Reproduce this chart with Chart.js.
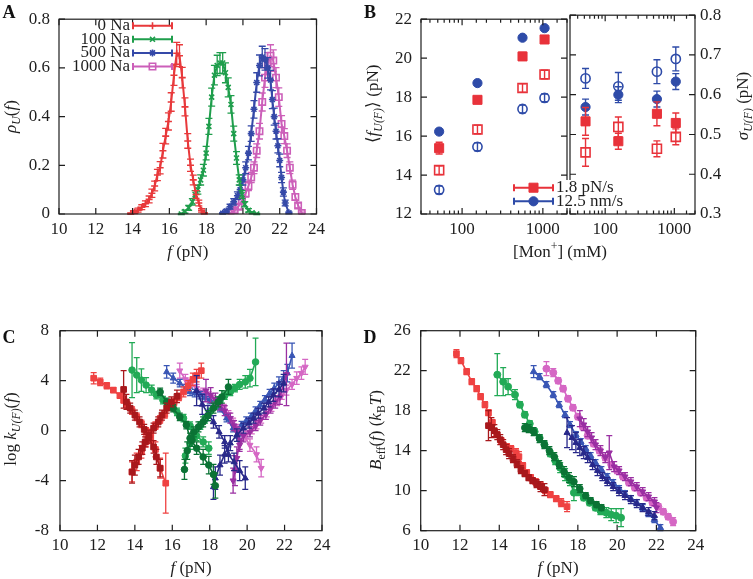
<!DOCTYPE html>
<html><head><meta charset="utf-8">
<script src="https://cdn.jsdelivr.net/npm/chart.js@4/dist/chart.umd.min.js"></script>
<style>
html,body{margin:0;padding:0;background:#fff;width:753px;height:579px;overflow:hidden;position:relative}
canvas{position:absolute}
</style></head><body>
<canvas id="cA"></canvas><canvas id="cBL"></canvas><canvas id="cBR"></canvas><canvas id="cC"></canvas><canvas id="cD"></canvas>
<script>
// ---------------- Panel A : rupture force distributions ----------------
const aLabels = ['0 Na', '100 Na', '500 Na', '1000 Na'];
const aRedF = [13.9,14.1,14.3,14.5,14.7,14.9,15.05,15.2,15.35,15.5,15.65,15.8,15.95,16.1,16.25,16.4,16.55,16.7,16.85,17.0,17.15,17.3,17.45,17.6,17.75,17.9];
const aRedY = [0.002,0.008,0.016,0.028,0.042,0.06,0.085,0.115,0.16,0.19,0.26,0.32,0.38,0.46,0.57,0.66,0.65,0.56,0.44,0.3,0.2,0.14,0.08,0.045,0.015,0.003];
const aRedE = [0.003,0.006,0.008,0.01,0.012,0.014,0.017,0.02,0.023,0.025,0.03,0.032,0.035,0.038,0.042,0.045,0.045,0.042,0.037,0.03,0.025,0.02,0.016,0.012,0.007,0.003];
const aGrnF = [16.65,16.85,17.05,17.25,17.4,17.55,17.7,17.85,18.0,18.15,18.3,18.45,18.6,18.75,18.9,19.05,19.2,19.35,19.5,19.65,19.8,19.95,20.1,20.3,20.5,20.75];
const aGrnY = [0.0,0.01,0.025,0.05,0.08,0.1,0.14,0.18,0.25,0.36,0.48,0.57,0.61,0.62,0.62,0.58,0.52,0.45,0.33,0.23,0.14,0.08,0.04,0.015,0.005,0.0];
const aGrnE = [0.002,0.006,0.01,0.013,0.016,0.018,0.021,0.024,0.028,0.033,0.037,0.04,0.042,0.043,0.043,0.041,0.039,0.036,0.031,0.026,0.021,0.016,0.011,0.007,0.004,0.002];
const aBluF = [18.9,19.1,19.3,19.5,19.7,19.85,20.0,20.15,20.3,20.45,20.6,20.75,20.9,21.05,21.2,21.35,21.5,21.6,21.7,21.8,21.9,22.0,22.1,22.2,22.3,22.5];
const aBluY = [0.003,0.012,0.03,0.05,0.075,0.1,0.14,0.19,0.25,0.33,0.43,0.54,0.61,0.645,0.635,0.6,0.55,0.47,0.4,0.34,0.28,0.22,0.15,0.09,0.045,0.005];
const aBluE = [0.003,0.007,0.01,0.013,0.016,0.018,0.021,0.024,0.028,0.032,0.036,0.04,0.043,0.044,0.044,0.042,0.04,0.037,0.035,0.032,0.029,0.026,0.021,0.017,0.012,0.004];
const aPnkF = [19.35,19.55,19.75,19.95,20.15,20.3,20.45,20.6,20.75,20.9,21.05,21.2,21.35,21.5,21.65,21.8,21.95,22.1,22.25,22.4,22.55,22.7,22.85,23.0,23.2];
const aPnkY = [0.004,0.015,0.03,0.055,0.085,0.115,0.15,0.19,0.26,0.34,0.46,0.56,0.62,0.65,0.63,0.56,0.48,0.37,0.32,0.26,0.19,0.12,0.07,0.035,0.004];
const aPnkE = [0.003,0.007,0.01,0.013,0.016,0.019,0.021,0.024,0.028,0.032,0.037,0.04,0.043,0.045,0.044,0.041,0.038,0.034,0.031,0.028,0.024,0.019,0.014,0.01,0.004];

// ---------------- Panel B : mean and std of rupture force vs [Mon+] ----------------
const bLabels = ['1.8 pN/s', '12.5 nm/s'];
const bConc = [52, 155, 560, 1050];
const bMeanRateFilled = [15.38, 17.86, 20.09, 20.96];
const bMeanRateFilledE = [0.3, 0.15, 0.2, 0.15];
const bMeanRateOpen = [14.25, 16.34, 18.47, 19.16];
const bMeanRateOpenE = [0.22, 0.22, 0.22, 0.22];
const bMeanVelFilled = [16.23, 18.72, 21.05, 21.54];
const bMeanVelFilledE = [0.08, 0.08, 0.08, 0.08];
const bMeanVelOpen = [13.24, 15.45, 17.39, 17.96];
const bMeanVelOpenE = [0.2, 0.2, 0.2, 0.2];
const bSdVelOpen = [0.641, 0.621, 0.658, 0.690];
const bSdVelOpenE = [0.025, 0.035, 0.03, 0.03];
const bSdVelFilled = [0.569, 0.600, 0.589, 0.633];
const bSdVelFilledE = [0.02, 0.02, 0.02, 0.02];
const bSdRateFilled = [0.533, 0.483, 0.552, 0.529];
const bSdRateFilledE = [0.035, 0.02, 0.03, 0.025];
const bSdRateOpen = [0.455, 0.519, 0.464, 0.494];
const bSdRateOpenE = [0.035, 0.025, 0.02, 0.02];

// ---------------- Panel C : log kinetic rates ----------------
const cRedLtDnF=[11.8,12.15,12.5,12.85,13.2,13.4,13.6,13.85,14.1,14.35,14.6,14.85,15.1,15.35,15.65];
const cRedLtDnV=[4.2,3.9,3.6,3.25,2.8,2.45,2.05,1.6,1.1,0.55,-0.05,-0.6,-1.5,-3.0,-4.2];
const cRedLtDnE=[0.45,0.3,0.25,0.2,0.2,0.25,0.3,0.3,0.3,0.3,0.3,0.4,0.6,0.8,2.4];
const cRedLtUpF=[13.85,14.1,14.35,14.6,14.85,15.1,15.35,15.6,15.85,16.1,16.35,16.6,16.85,17.1,17.3,17.55];
const cRedLtUpV=[-3.3,-2.5,-1.7,-0.9,-0.2,0.4,0.9,1.3,1.9,2.3,2.7,3.1,3.6,4.1,4.4,4.8];
const cRedLtUpE=[0.8,0.7,0.5,0.4,0.3,0.3,0.3,0.3,0.3,0.3,0.3,0.4,0.4,0.5,0.5,0.6];
const cRedDkDnF=[13.4,13.55,13.75,14.0,14.25,14.5,14.75,15.0,15.15,15.35];
const cRedDkDnV=[3.3,2.3,1.8,1.25,0.7,0.1,-0.6,-1.3,-2.1,-3.0];
const cRedDkDnE=[1.5,0.6,0.4,0.4,0.4,0.4,0.4,0.5,0.6,0.7];
const cRedDkUpF=[13.85,14.0,14.2,14.4,14.55,14.75,15.0,15.25,15.45,15.7,15.95,16.25];
const cRedDkUpV=[-3.3,-2.75,-2.1,-1.4,-0.9,-0.35,0.2,0.7,1.25,1.8,2.3,2.75];
const cRedDkUpE=[0.9,0.8,0.6,0.5,0.4,0.4,0.4,0.4,0.4,0.4,0.4,0.5];
const cGrnLtDnF=[13.85,14.1,14.35,14.6,14.9,15.15,15.5,15.85,16.25,16.6,16.95,17.3,17.65,17.95];
const cGrnLtDnV=[4.85,4.45,4.05,3.65,3.25,2.85,2.45,2.05,1.5,1.0,0.4,-0.4,-0.9,-1.4];
const cGrnLtDnE=[2.2,1.4,0.9,0.6,0.4,0.3,0.3,0.3,0.3,0.3,0.3,0.4,0.4,0.5];
const cGrnLtUpF=[16.7,16.95,17.2,17.5,17.75,18.0,18.3,18.55,18.8,19.1,19.35,19.6,19.9,20.15,20.45];
const cGrnLtUpV=[-2.0,-1.0,-0.3,0.4,0.9,1.5,2.0,2.4,2.8,3.1,3.4,3.7,3.9,4.2,5.5];
const cGrnLtUpE=[0.6,0.5,0.4,0.3,0.3,0.3,0.3,0.3,0.3,0.3,0.3,0.4,0.5,0.7,1.9];
const cGrnDkDnF=[15.35,15.7,16.05,16.4,16.75,16.95,17.3,17.65,17.95,18.2,18.3];
const cGrnDkDnV=[3.1,2.3,1.8,1.1,0.45,-0.6,-1.4,-2.1,-2.75,-3.5,-4.4];
const cGrnDkDnE=[0.3,0.3,0.3,0.3,0.3,0.4,0.5,0.6,0.7,0.8,1.0];
const cGrnDkUpF=[16.65,16.8,17.05,17.15,17.4,17.65,17.9,18.2,18.45,18.65,19.0];
const cGrnDkUpV=[-3.1,-1.6,-0.75,-0.1,0.3,0.7,1.2,1.8,2.3,2.7,3.5];
const cGrnDkUpE=[0.8,0.7,0.5,0.4,0.4,0.4,0.4,0.4,0.4,0.5,0.6];
const cBluLtDnF=[15.7,16.05,16.4,16.75,16.95,17.2,17.5,17.75,18.0,18.3,18.55,18.9,19.25,19.5];
const cBluLtDnV=[4.7,4.2,3.8,3.4,3.1,3.0,2.85,2.65,2.45,2.1,1.8,1.0,0.2,-0.3];
const cBluLtDnE=[0.5,0.4,0.3,0.3,0.3,0.3,0.3,0.3,0.3,0.3,0.3,0.3,0.3,0.3];
const cBluLtUpF=[19.7,19.95,20.2,20.45,20.7,20.95,21.2,21.45,21.7,21.95,22.15,22.4];
const cBluLtUpV=[0.45,0.8,1.1,1.6,2.05,2.5,3.0,3.4,3.8,4.2,4.6,6.0];
const cBluLtUpE=[0.3,0.3,0.3,0.3,0.3,0.3,0.3,0.4,0.5,0.6,0.7,1.0];
const cNavDnF=[17.3,17.6,17.9,18.2,18.5,18.8,19.0,19.3,19.6,19.9];
const cNavDnV=[3.2,2.1,1.4,0.7,-0.1,-0.9,-1.9,-2.5,-3.2,-3.8];
const cNavDnE=[1.2,0.8,0.6,0.5,0.5,0.5,0.6,0.7,0.8,0.9];
const cNavUpF=[18.2,18.3,18.55,18.8,19.1,19.45,19.8,20.1,20.35,20.6,20.9,21.15,21.4,21.7,21.95];
const cNavUpV=[-4.5,-3.8,-2.75,-1.9,-1.0,-0.35,0.2,0.6,1.0,1.4,1.8,2.3,2.85,3.3,3.8];
const cNavUpE=[1.0,0.9,0.8,0.7,0.6,0.5,0.4,0.4,0.4,0.4,0.4,0.4,0.5,0.6,0.7];
const cPnkDnF=[16.4,16.7,16.95,17.3,17.65,17.95,18.2,18.45,18.75,19.0,19.25,19.5,19.8,20.15,20.5,20.75];
const cPnkDnV=[4.8,4.1,3.8,3.4,3.1,2.8,2.5,2.2,1.8,1.3,0.7,0.2,-0.35,-1.15,-1.9,-3.0];
const cPnkDnE=[0.6,0.4,0.3,0.3,0.3,0.3,0.3,0.3,0.3,0.3,0.3,0.3,0.4,0.5,0.6,0.7];
const cPnkUpF=[19.95,20.25,20.5,20.75,21.05,21.3,21.6,21.85,22.1,22.4,22.65,22.9,23.1];
const cPnkUpV=[-0.35,0.05,0.45,0.9,1.4,1.85,2.3,2.8,3.25,3.7,4.2,4.6,5.1];
const cPnkUpE=[0.3,0.3,0.3,0.3,0.3,0.3,0.3,0.3,0.4,0.4,0.5,0.5,0.6];
const cPurDnF=[17.8,18.05,18.3,18.55,18.8,19.1,19.3,19.45,19.6];
const cPurDnV=[3.2,2.85,2.5,2.05,1.6,1.0,0.4,-0.1,-1.15];
const cPurDnE=[0.9,0.6,0.5,0.4,0.4,0.4,0.4,0.4,0.5];
const cPurUpF=[19.25,19.35,19.45,19.6,19.8,20.15,20.45,20.7,21.0,21.25,21.5,21.75,22.1];
const cPurUpV=[-4.0,-3.2,-2.2,-0.9,-0.4,-0.1,0.4,0.85,1.3,1.8,2.3,2.7,4.5];
const cPurUpE=[1.0,1.2,0.9,0.6,0.5,0.4,0.4,0.4,0.4,0.4,0.5,0.6,2.5];

// ---------------- Panel D : effective barrier ----------------
const dRedLtF=[11.82,12.05,12.34,12.6,12.85,13.05,13.27,13.45,13.65,13.87,14.1,14.38,14.6,14.85,15.0,15.2,15.4,15.6,15.85,16.1,16.35,16.6,16.9,17.15,17.45];
const dRedLtV=[23.7,23.0,21.9,20.9,20.2,19.4,18.6,17.8,16.8,15.6,15.0,14.4,14.2,13.8,13.4,12.5,11.8,11.3,10.9,10.5,10.0,9.6,9.2,8.8,8.4];
const dRedLtE=[0.4,0.3,0.3,0.3,0.3,0.3,0.3,0.3,0.3,0.3,0.3,0.3,0.3,0.4,0.5,0.3,0.3,0.3,0.3,0.3,0.3,0.3,0.3,0.4,0.5];
const dRedDkF=[13.45,13.6,13.75,13.9,14.05,14.2,14.35,14.5,14.7,14.9,15.1,15.3,15.5,15.7,15.9,16.1,16.3];
const dRedDkV=[16.5,16.3,16.0,15.6,15.1,14.6,14.1,13.7,13.2,12.7,12.1,11.7,11.3,11.0,10.7,10.4,10.1];
const dRedDkE=[1.5,1.0,0.6,0.5,0.5,0.5,0.5,0.5,0.4,0.4,0.4,0.3,0.3,0.3,0.4,0.5,0.6];
const dGrnLtF=[13.9,14.2,14.45,14.8,15.05,15.3,15.55,15.8,16.05,16.3,16.6,16.85,17.1,17.35,17.6,17.8,18.05,18.3,18.6,18.9,19.15,19.45,19.7,19.95,20.2];
const dGrnLtV=[21.6,20.9,20.4,19.6,18.6,17.6,16.7,15.9,15.3,14.6,13.7,13.0,12.3,11.6,11.0,9.8,9.9,9.3,8.8,8.3,8.0,7.8,7.6,7.5,7.3];
const dGrnLtE=[2.1,1.4,0.8,0.5,0.3,0.3,0.3,0.3,0.3,0.3,0.3,0.4,0.5,0.6,0.5,0.8,0.4,0.3,0.3,0.3,0.4,0.5,0.6,0.7,0.9];
const dGrnDkF=[15.3,15.5,15.75,16.05,16.3,16.55,16.8,17.05,17.3,17.55,17.8,18.1,18.4,18.65,18.95,19.2];
const dGrnDkV=[16.3,16.2,15.9,15.2,14.6,14.0,13.4,12.6,11.9,11.3,10.9,10.2,9.5,9.0,8.6,8.3];
const dGrnDkE=[0.4,0.4,0.4,0.4,0.4,0.4,0.4,0.4,0.5,0.5,0.5,0.4,0.3,0.3,0.3,0.3];
const dBluLtF=[15.75,16.05,16.4,16.75,17.05,17.35,17.6,17.9,18.15,18.4,18.65,18.9,19.2,19.5,19.8,20.1,20.4,20.7,21.0,21.3,21.6,21.9,22.2];
const dBluLtV=[21.9,21.4,20.6,19.6,18.6,17.6,16.6,15.6,14.9,14.2,13.5,12.8,12.1,11.4,10.8,10.2,9.7,9.2,8.8,8.3,7.7,7.1,6.3];
const dBluLtE=[0.6,0.3,0.3,0.3,0.3,0.3,0.3,0.3,0.3,0.3,0.3,0.3,0.3,0.3,0.3,0.3,0.3,0.3,0.3,0.3,0.3,0.3,0.3];
const dNavF=[17.45,17.7,17.9,18.1,18.3,18.5,18.75,19.0,19.25,19.5,19.8,20.1,20.4,20.7,21.0,21.3,21.6,21.9];
const dNavV=[15.8,15.3,14.8,14.3,13.8,13.3,12.6,12.0,11.4,10.9,10.4,9.9,9.5,9.1,8.7,8.3,7.9,7.5];
const dNavE=[1.5,1.2,1.0,0.8,0.6,0.5,0.5,0.5,0.4,0.4,0.4,0.4,0.4,0.4,0.4,0.4,0.4,0.4];
const dPnkLtF=[16.4,16.75,17.0,17.25,17.5,17.75,18.0,18.25,18.5,18.8,19.1,19.4,19.7,20.0,20.3,20.6,20.9,21.2,21.5,21.8,22.1,22.35,22.6,22.85];
const dPnkLtV=[22.2,21.8,21.0,20.2,19.2,18.3,17.4,16.4,15.5,14.7,14.0,13.3,12.6,12.0,11.4,10.8,10.3,9.8,9.3,8.8,8.4,7.9,7.4,6.9];
const dPnkLtE=[0.7,0.4,0.3,0.3,0.3,0.3,0.3,0.3,0.3,0.3,0.3,0.3,0.3,0.3,0.3,0.3,0.3,0.3,0.3,0.3,0.3,0.3,0.3,0.4];
const dPurF=[18.1,18.3,18.5,18.7,18.9,19.15,19.4,19.6,19.85,20.1,20.4,20.7,21.0,21.3,21.6,21.9,22.0];
const dPurV=[17.2,16.6,15.9,15.3,14.6,14.0,13.3,13.8,12.4,12.0,11.4,10.9,10.4,9.9,9.4,8.9,8.3];
const dPurE=[0.8,0.6,0.5,0.5,0.5,0.5,0.5,1.7,0.5,0.4,0.4,0.4,0.4,0.4,0.4,0.4,0.5];

// ---------------- styling ----------------
const SERIF = '"Liberation Serif", "Times New Roman", serif';
const FS = 17;
const INK = '#1e1e1e';
const RED='#e8393b', GREEN='#1f9e4c', BLUE='#3549a8', PINK='#cc5fb9';
const BRED='#e8323a', BBLUE='#2e4ba8';
const RED_L='#ef4242', RED_D='#a8181c', GRN_L='#22aa56', GRN_D='#0b7335', BLU_L='#3956b5', BLU_D='#28288a', PNK_L='#d567c4', PUR_D='#9a2fa2';

Chart.defaults.font.family = SERIF;
Chart.defaults.font.size = FS;
Chart.defaults.color = INK;
Chart.defaults.animation = false;

const pts = (F, V) => F.map((x, i) => ({x, y: V[i]}));

function richText(ctx, segs, x, y, rot, size) {
  const parts = segs.map(([t, s]) => {
    const sub = s === 'si' || s === 'sr';
    const sup = s === 'sup';
    const it = s === 'i' || s === 'si';
    const fs = (sub || sup) ? size * 0.7 : size;
    const font = (it ? 'italic ' : '') + fs + 'px ' + SERIF;
    ctx.font = font;
    return {t, font, w: ctx.measureText(t).width, dy: sub ? size * 0.28 : (sup ? -size * 0.36 : 0)};
  });
  const total = parts.reduce((a, p) => a + p.w, 0);
  ctx.save();
  ctx.translate(x, y);
  if (rot) ctx.rotate(rot);
  ctx.textBaseline = 'middle'; ctx.textAlign = 'left'; ctx.fillStyle = INK;
  let cx = -total / 2;
  for (const p of parts) { ctx.font = p.font; ctx.fillText(p.t, cx, p.dy); cx += p.w; }
  ctx.restore();
}
function letter(ctx, t, x, y) {
  ctx.save(); ctx.font = 'bold 18px ' + SERIF; ctx.fillStyle = '#111';
  ctx.textAlign = 'center'; ctx.textBaseline = 'middle'; ctx.fillText(t, x, y); ctx.restore();
}
function legendRow(ctx, ds, x0, x1, y, textX, align) {
  ctx.save();
  ctx.strokeStyle = ds.borderColor; ctx.lineWidth = 2;
  ctx.beginPath(); ctx.moveTo(x0, y); ctx.lineTo(x1, y);
  ctx.moveTo(x0, y - 3.5); ctx.lineTo(x0, y + 3.5); ctx.moveTo(x1, y - 3.5); ctx.lineTo(x1, y + 3.5);
  ctx.stroke();
  ctx.fillStyle = ds.pointBackgroundColor || ds.backgroundColor; ctx.strokeStyle = ds.borderColor; ctx.lineWidth = ds.pointBorderWidth || 1.5;
  Chart.helpers.drawPoint(ctx, {pointStyle: ds.pointStyle, radius: ds.pointRadius, borderWidth: ds.pointBorderWidth || 1.5, rotation: ds.pointRotation || 0}, (x0 + x1) / 2, y);
  ctx.font = FS + 'px ' + SERIF; ctx.fillStyle = INK; ctx.textBaseline = 'middle'; ctx.textAlign = align;
  ctx.fillText(ds.label, textX, y);
  ctx.restore();
}

// inside (gnuplot style) ticks on all four sides + frame
Chart.register({
  id: 'frame',
  afterDraw(chart) {
    const {ctx, chartArea: a} = chart;
    ctx.save();
    ctx.strokeStyle = INK; ctx.lineWidth = 1.2;
    for (const sc of Object.values(chart.scales)) {
      const horiz = sc.isHorizontal();
      const lo = Math.min(sc.min, sc.max), hi = Math.max(sc.min, sc.max);
      for (const t of sc.ticks) {
        if (t.value < lo * (1 - 1e-9) - 1e-9 || t.value > hi * (1 + 1e-9) + 1e-9) continue;
        const p = sc.getPixelForValue(t.value);
        let len = 6;
        if (sc.type === 'logarithmic') { const l = Math.log10(t.value); if (Math.abs(l - Math.round(l)) > 1e-6) len = 3.5; }
        ctx.beginPath();
        if (horiz) { ctx.moveTo(p, a.bottom); ctx.lineTo(p, a.bottom - len); ctx.moveTo(p, a.top); ctx.lineTo(p, a.top + len); }
        else { ctx.moveTo(a.left, p); ctx.lineTo(a.left + len, p); ctx.moveTo(a.right, p); ctx.lineTo(a.right - len, p); }
        ctx.stroke();
      }
    }
    ctx.strokeRect(a.left, a.top, a.right - a.left, a.bottom - a.top);
    ctx.restore();
  }
});
// vertical error bars
Chart.register({
  id: 'errbars',
  beforeDatasetDraw(chart, args) {
    const ds = chart.data.datasets[args.index];
    if (!ds.errY) return;
    const meta = args.meta;
    const xs = chart.scales[meta.xAxisID], ys = chart.scales[meta.yAxisID];
    const ctx = chart.ctx;
    ctx.save();
    ctx.strokeStyle = ds.borderColor; ctx.lineWidth = ds.errWidth || 1.3;
    const cap = ds.cap || 3;
    ds.data.forEach((pt, i) => {
      const e = ds.errY[i]; if (!e) return;
      const px = xs.getPixelForValue(pt.x);
      const y1 = ys.getPixelForValue(pt.y - e), y2 = ys.getPixelForValue(pt.y + e);
      ctx.beginPath();
      ctx.moveTo(px, y1); ctx.lineTo(px, y2);
      ctx.moveTo(px - cap, y1); ctx.lineTo(px + cap, y1);
      ctx.moveTo(px - cap, y2); ctx.lineTo(px + cap, y2);
      ctx.stroke();
    });
    ctx.restore();
  }
});

function place(id, r) {
  const c = document.getElementById(id);
  c.width = r.w; c.height = r.h; c.style.left = r.x + 'px'; c.style.top = r.y + 'px';
  return c;
}
function linScale(axis, min, max, step, fit, pad, extra) {
  return Object.assign({
    type: 'linear', min, max, position: axis === 'x' ? 'bottom' : 'left',
    ticks: {stepSize: step, padding: pad, autoSkip: false, maxRotation: 0, color: INK},
    grid: {display: false, drawTicks: false}, border: {display: false},
    afterFit(s) { if (axis === 'x') s.height = fit; else s.width = fit; }
  }, extra || {});
}
function logScale(min, max, fit, pad) {
  return {
    type: 'logarithmic', min, max, position: 'bottom',
    ticks: {padding: pad, autoSkip: false, maxRotation: 0, color: INK,
      callback: v => (Math.abs(v - 100) < 1e-6 || Math.abs(v - 1000) < 1e-6) ? String(Math.round(v)) : ''},
    grid: {display: false, drawTicks: false}, border: {display: false},
    afterFit(s) { s.height = fit; }
  };
}
const baseOpts = (padding, scales) => ({
  responsive: false, maintainAspectRatio: false, animation: false,
  layout: {padding},
  plugins: {legend: {display: false}, tooltip: {enabled: false}},
  scales
});

// ---------------- Panel A ----------------
const rA = {x: 0, y: 0, w: 330, h: 290};
const aSets = [
  [aRedF, aRedY, aRedE, RED, 'cross', 3.5, RED],
  [aGrnF, aGrnY, aGrnE, GREEN, 'crossRot', 3.5, GREEN],
  [aBluF, aBluY, aBluE, BLUE, 'star', 3.5, BLUE],
  [aPnkF, aPnkY, aPnkE, PINK, 'rect', 4.5, 'rgba(255,255,255,0)']
];
new Chart(place('cA', rA), {
  type: 'scatter',
  data: {datasets: aSets.map(([F, V, E, col, ps, r, bg], i) => ({
    label: aLabels[i], data: pts(F, V), errY: E, cap: 3.5,
    borderColor: col, backgroundColor: bg, pointBackgroundColor: bg, pointStyle: ps, pointRadius: r,
    pointBorderWidth: 1.6, borderWidth: 2, showLine: true, order: i
  }))},
  options: baseOpts({top: 13, right: 10, left: 0, bottom: 0}, {
    x: linScale('x', 10, 24, 2, 76, 5),
    y: linScale('y', 0, 0.8, 0.2, 59, 9)
  }),
  plugins: [{id: 'decoA', afterDraw(chart) {
    const ctx = chart.ctx, a = chart.chartArea;
    richText(ctx, [['ρ', 'i'], ['U', 'si'], ['(', 'r'], ['f', 'i'], [')', 'r']], 12, (a.top + a.bottom) / 2, -Math.PI / 2, FS);
    richText(ctx, [['f', 'i'], [' (pN)', 'r']], (a.left + a.right) / 2, 253, 0, FS);
    letter(ctx, 'A', 9, 13);
    chart.data.datasets.forEach((ds, i) => legendRow(ctx, ds, 133, 172, 25.7 + 13.6 * i, 130, 'right'));
  }}]
});

// ---------------- Panel B (left: mean) ----------------
const rBL = {x: 330, y: 0, w: 245, h: 290};
const bStyle = (label, V, E, col, ps, filled) => ({
  label, data: pts(bConc, V), errY: E, cap: 3.5,
  borderColor: col, backgroundColor: filled ? col : 'rgba(255,255,255,0)',
  pointBackgroundColor: filled ? col : 'rgba(255,255,255,0)',
  pointStyle: ps, pointRadius: ps === 'rect' ? 6.4 : 4.6, pointBorderWidth: filled ? 1 : 1.6,
  showLine: false, errWidth: 1.4
});
new Chart(place('cBL', rBL), {
  type: 'scatter',
  data: {datasets: [
    bStyle(bLabels[0], bMeanRateFilled, bMeanRateFilledE, BRED, 'rect', true),
    bStyle(bLabels[0], bMeanRateOpen, bMeanRateOpenE, BRED, 'rect', false),
    bStyle(bLabels[1], bMeanVelFilled, bMeanVelFilledE, BBLUE, 'circle', true),
    bStyle(bLabels[1], bMeanVelOpen, bMeanVelOpenE, BBLUE, 'circle', false)
  ]},
  options: baseOpts({top: 13, right: 5, left: 0, bottom: 0}, {
    x: logScale(31, 1990, 76, 5),
    y: linScale('y', 12, 22, 2, 91, 9)
  }),
  plugins: [{id: 'decoBL', afterDraw(chart) {
    const ctx = chart.ctx;
    ctx.save(); ctx.translate(-rBL.x, -rBL.y);
    letter(ctx, 'B', 370, 13);
    richText(ctx, [['⟨', 'r'], ['f', 'i'], ['U(F)', 'si'], ['⟩ (pN)', 'r']], 374, 104, -Math.PI / 2, FS);
    ctx.restore();
  }}]
});

// ---------------- Panel B (right: std) ----------------
const rBR = {x: 500, y: 0, w: 253, h: 290};
new Chart(place('cBR', rBR), {
  type: 'scatter',
  data: {datasets: [
    bStyle(bLabels[0], bSdRateFilled, bSdRateFilledE, BRED, 'rect', true),
    bStyle(bLabels[0], bSdRateOpen, bSdRateOpenE, BRED, 'rect', false),
    bStyle(bLabels[1], bSdVelFilled, bSdVelFilledE, BBLUE, 'circle', true),
    bStyle(bLabels[1], bSdVelOpen, bSdVelOpenE, BBLUE, 'circle', false)
  ]},
  options: baseOpts({top: 13, right: 0, left: 70, bottom: 0}, {
    x: logScale(31, 1990, 76, 5),
    y: linScale('y', 0.3, 0.8, 0.1, 58, 5, {position: 'right'})
  }),
  plugins: [{id: 'decoBR', afterDraw(chart) {
    const ctx = chart.ctx;
    ctx.save(); ctx.translate(-rBR.x, -rBR.y);
    richText(ctx, [['σ', 'i'], ['U(F)', 'si'], [' (pN)', 'r']], 744, 106, -Math.PI / 2, FS);
    richText(ctx, [['[Mon', 'r'], ['+', 'sup'], ['] (mM)', 'r']], 560, 253, 0, FS);
    ctx.fillStyle = '#fff'; ctx.fillRect(511, 180, 118, 28);
    const ds = chart.data.datasets;
    legendRow(ctx, ds[0], 514, 553, 187.7, 556, 'left');
    legendRow(ctx, ds[2], 514, 553, 201.3, 556, 'left');
    ctx.restore();
  }}]
});

// ---------------- Panel C ----------------
const rC = {x: 0, y: 290, w: 340, h: 289};
const lineSet = (label, F, V, E, col, ps, r, rot) => ({
  label, data: pts(F, V), errY: E, cap: 3,
  borderColor: col, backgroundColor: col, pointBackgroundColor: col, pointStyle: ps, pointRadius: r,
  pointRotation: rot || 0, pointBorderWidth: 1, borderWidth: 1.6, showLine: true, errWidth: 1.3
});
new Chart(place('cC', rC), {
  type: 'scatter',
  data: {datasets: [
    lineSet('0 Na fold B', cRedDkDnF, cRedDkDnV, cRedDkDnE, RED_D, 'rect', 4),
    lineSet('0 Na unfold B', cRedDkUpF, cRedDkUpV, cRedDkUpE, RED_D, 'rect', 4),
    lineSet('100 Na fold B', cGrnDkDnF, cGrnDkDnV, cGrnDkDnE, GRN_D, 'circle', 3.3),
    lineSet('100 Na unfold B', cGrnDkUpF, cGrnDkUpV, cGrnDkUpE, GRN_D, 'circle', 3.3),
    lineSet('500 Na fold B', cNavDnF, cNavDnV, cNavDnE, BLU_D, 'triangle', 3.5),
    lineSet('500 Na unfold B', cNavUpF, cNavUpV, cNavUpE, BLU_D, 'triangle', 3.5),
    lineSet('1000 Na fold B', cPurDnF, cPurDnV, cPurDnE, PUR_D, 'triangle', 3.5, 180),
    lineSet('1000 Na unfold B', cPurUpF, cPurUpV, cPurUpE, PUR_D, 'triangle', 3.5, 180),
    lineSet('0 Na fold A', cRedLtDnF, cRedLtDnV, cRedLtDnE, RED_L, 'rect', 4),
    lineSet('0 Na unfold A', cRedLtUpF, cRedLtUpV, cRedLtUpE, RED_L, 'rect', 4),
    lineSet('100 Na fold A', cGrnLtDnF, cGrnLtDnV, cGrnLtDnE, GRN_L, 'circle', 3.3),
    lineSet('100 Na unfold A', cGrnLtUpF, cGrnLtUpV, cGrnLtUpE, GRN_L, 'circle', 3.3),
    lineSet('500 Na fold A', cBluLtDnF, cBluLtDnV, cBluLtDnE, BLU_L, 'triangle', 3.5),
    lineSet('500 Na unfold A', cBluLtUpF, cBluLtUpV, cBluLtUpE, BLU_L, 'triangle', 3.5),
    lineSet('1000 Na fold A', cPnkDnF, cPnkDnV, cPnkDnE, PNK_L, 'triangle', 3.5, 180),
    lineSet('1000 Na unfold A', cPnkUpF, cPnkUpV, cPnkUpE, PNK_L, 'triangle', 3.5, 180)
  ]},
  options: baseOpts({top: 40.7, right: 18, left: 0, bottom: 0}, {
    x: linScale('x', 10, 24, 2, 48.3, 5),
    y: linScale('y', -8, 8, 4, 60, 11)
  }),
  plugins: [{id: 'decoC', afterDraw(chart) {
    const ctx = chart.ctx;
    ctx.save(); ctx.translate(-rC.x, -rC.y);
    letter(ctx, 'C', 9, 338);
    richText(ctx, [['log ', 'r'], ['k', 'i'], ['U(F)', 'si'], ['(', 'r'], ['f', 'i'], [')', 'r']], 12, 429, -Math.PI / 2, FS);
    richText(ctx, [['f', 'i'], [' (pN)', 'r']], 191, 569, 0, FS);
    ctx.restore();
  }}]
});

// ---------------- Panel D ----------------
const rD = {x: 355, y: 290, w: 398, h: 289};
new Chart(place('cD', rD), {
  type: 'scatter',
  data: {datasets: [
    lineSet('0 Na B', dRedDkF, dRedDkV, dRedDkE, RED_D, 'rect', 4),
    lineSet('100 Na B', dGrnDkF, dGrnDkV, dGrnDkE, GRN_D, 'circle', 3.3),
    lineSet('500 Na B', dNavF, dNavV, dNavE, BLU_D, 'triangle', 3.5),
    lineSet('1000 Na B', dPurF, dPurV, dPurE, PUR_D, 'triangle', 3.5, 180),
    lineSet('0 Na A', dRedLtF, dRedLtV, dRedLtE, RED_L, 'rect', 4),
    lineSet('100 Na A', dGrnLtF, dGrnLtV, dGrnLtE, GRN_L, 'circle', 3.5),
    lineSet('500 Na A', dBluLtF, dBluLtV, dBluLtE, BLU_L, 'triangle', 3.8),
    lineSet('1000 Na A', dPnkLtF, dPnkLtV, dPnkLtE, PNK_L, 'circle', 3.5)
  ]},
  options: baseOpts({top: 40.7, right: 57.3, left: 0, bottom: 0}, {
    x: linScale('x', 10, 24, 2, 48.3, 5),
    y: linScale('y', 6, 26, 4, 65.7, 10)
  }),
  plugins: [{id: 'decoD', afterDraw(chart) {
    const ctx = chart.ctx;
    ctx.save(); ctx.translate(-rD.x, -rD.y);
    letter(ctx, 'D', 370, 338);
    richText(ctx, [['B', 'i'], ['eff', 'sr'], ['(', 'r'], ['f', 'i'], [') (', 'r'], ['k', 'i'], ['B', 'sr'], ['T', 'i'], [')', 'r']], 377, 430, -Math.PI / 2, FS);
    richText(ctx, [['f', 'i'], [' (pN)', 'r']], 558, 569, 0, FS);
    ctx.restore();
  }}]
});
</script>
</body></html>
